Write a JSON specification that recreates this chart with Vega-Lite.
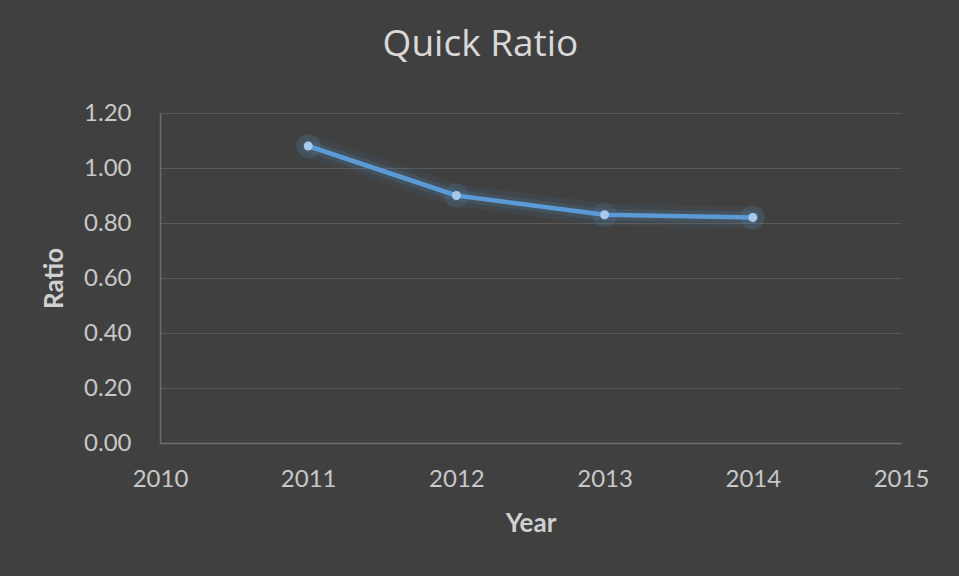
{
  "$schema": "https://vega.github.io/schema/vega-lite/v6.json",
  "autosize": "none",
  "width": 741,
  "height": 330,
  "padding": {"left": 160, "top": 113, "right": 58, "bottom": 133},
  "background": "#404040",
  "title": {
    "text": "Quick Ratio",
    "font": "Open Sans",
    "fontSize": 37,
    "fontWeight": "normal",
    "color": "#d9d9d9",
    "anchor": "middle",
    "baseline": "alphabetic",
    "offset": 56,
    "dx": -50,
    "dy": 48
  },
  "data": {
    "values": [
      {"Year": 2011, "Ratio": 1.08},
      {"Year": 2012, "Ratio": 0.90},
      {"Year": 2013, "Ratio": 0.83},
      {"Year": 2014, "Ratio": 0.82}
    ]
  },
  "encoding": {
    "x": {
      "field": "Year",
      "type": "quantitative",
      "scale": {"domain": [2010, 2015], "nice": false, "zero": false},
      "axis": {
        "values": [2010, 2011, 2012, 2013, 2014, 2015],
        "format": "d",
        "title": "Year",
        "grid": false,
        "ticks": false,
        "tickSize": 0,
        "labelFlush": false,
        "labelPadding": 24,
        "titlePadding": 19
      }
    },
    "y": {
      "field": "Ratio",
      "type": "quantitative",
      "scale": {"domain": [0, 1.2], "nice": false},
      "axis": {
        "values": [0, 0.2, 0.4, 0.6, 0.8, 1.0, 1.2],
        "format": ".2f",
        "title": "Ratio",
        "grid": true,
        "ticks": false,
        "tickSize": 0,
        "labelFlush": false,
        "labelPadding": 29,
        "titlePadding": 16
      }
    }
  },
  "layer": [
    {"mark": {"type": "line", "color": "#5b9bd5", "strokeWidth": 22, "opacity": 0.07, "strokeCap": "round", "strokeJoin": "round"}},
    {"mark": {"type": "line", "color": "#5b9bd5", "strokeWidth": 12, "opacity": 0.14, "strokeCap": "round", "strokeJoin": "round"}},
    {"mark": {"type": "point", "filled": true, "color": "#5b9bd5", "size": 600, "opacity": 0.14}},
    {"mark": {"type": "line", "color": "#5b9bd5", "strokeWidth": 4.5, "strokeJoin": "round"}},
    {"mark": {"type": "point", "filled": true, "color": "#a8c8ec", "size": 80, "opacity": 1}}
  ],
  "config": {
    "view": {"stroke": null},
    "axis": {
      "labelFont": "Lato",
      "labelFontSize": 24,
      "labelColor": "#c8c8c8",
      "titleFont": "Lato",
      "titleFontSize": 26,
      "titleFontWeight": "bold",
      "titleColor": "#d0d0d0",
      "domainColor": "#6e6e6e",
      "domainWidth": 1.5,
      "gridColor": "#595959",
      "gridWidth": 1
    }
  }
}
